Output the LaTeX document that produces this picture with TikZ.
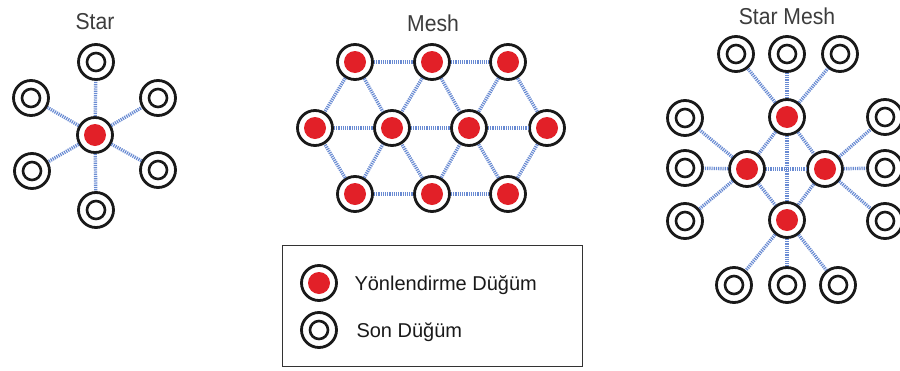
\documentclass[tikz,border=0pt]{standalone}
\usepackage{fontspec}
\setmainfont{Liberation Sans}
\definecolor{linkblue}{RGB}{104,138,210}
\definecolor{routered}{RGB}{226,32,40}
\definecolor{ringgray}{RGB}{25,25,25}
\definecolor{titlegray}{RGB}{60,60,60}
\begin{document}
\begin{tikzpicture}[x=1pt,y=-1pt,
  endn/.style={circle,draw=ringgray,line width=2.8pt,minimum size=35pt,inner sep=0pt,fill=white,
    path picture={\draw[ringgray,line width=2.6pt] (path picture bounding box.center) circle (9pt);}},
  routen/.style={circle,draw=ringgray,line width=2.8pt,minimum size=35pt,inner sep=0pt,fill=white,
    path picture={\fill[routered] (path picture bounding box.center) circle (11pt);}},
  link/.style={draw=linkblue,line width=3.4pt,dash pattern=on 1.2pt off 1pt},
  title/.style={font=\fontsize{23}{25}\selectfont,text=titlegray,xscale=0.92},
  legtext/.style={font=\fontsize{20}{23}\selectfont,anchor=west,text=black!90}]
\useasboundingbox (0,0) rectangle (900,370);
\clip (0,0) rectangle (900,370);

% ---- Star ----
\node[title] (tstar) at (95,22) {Star};
\node[routen] (sc) at (95,135) {};
\node[endn] (s1) at (96,62) {};
\node[endn] (s2) at (31,98) {};
\node[endn] (s3) at (158,98) {};
\node[endn] (s4) at (32,171) {};
\node[endn] (s5) at (158,170) {};
\node[endn] (s6) at (96,210) {};
\foreach \n in {s1,s2,s3,s4,s5,s6} \draw[link] (sc) -- (\n);

% ---- Mesh ----
\node[title] (tmesh) at (433,23) {Mesh};
\node[routen] (t1) at (355,62) {};
\node[routen] (t2) at (432,62) {};
\node[routen] (t3) at (508,62) {};
\node[routen] (m1) at (315,128) {};
\node[routen] (m2) at (392,128) {};
\node[routen] (m3) at (469,128) {};
\node[routen] (m4) at (547,128) {};
\node[routen] (b1) at (355,194) {};
\node[routen] (b2) at (432,194) {};
\node[routen] (b3) at (508,194) {};
\foreach \a/\b in {t1/t2,t2/t3,m1/m2,m2/m3,m3/m4,b1/b2,b2/b3,
  t1/m1,t1/m2,t2/m2,t2/m3,t3/m3,t3/m4,
  b1/m1,b1/m2,b2/m2,b2/m3,b3/m3,b3/m4}
  \draw[link] (\a) -- (\b);

% ---- Star Mesh ----
\node[title] (tsm) at (787,16) {Star Mesh};
\node[routen] (rt) at (787,117) {};
\node[routen] (rl) at (747,169) {};
\node[routen] (rr) at (825,169) {};
\node[routen] (rb) at (787,220) {};
\node[endn] (et1) at (736,54) {};
\node[endn] (et2) at (787,54) {};
\node[endn] (et3) at (840,54) {};
\node[endn] (el1) at (685,118) {};
\node[endn] (el2) at (685,168) {};
\node[endn] (el3) at (685,221) {};
\node[endn] (er1) at (885,117) {};
\node[endn] (er2) at (885,168) {};
\node[endn] (er3) at (885,221) {};
\node[endn] (eb1) at (734,285) {};
\node[endn] (eb2) at (787,285) {};
\node[endn] (eb3) at (838,285) {};
\foreach \a/\b in {rt/et1,rt/et2,rt/et3,rl/el1,rl/el2,rl/el3,
  rr/er1,rr/er2,rr/er3,rb/eb1,rb/eb2,rb/eb3,
  rt/rl,rt/rr,rt/rb,rl/rr,rl/rb,rr/rb}
  \draw[link] (\a) -- (\b);

% ---- Legend ----
\node[draw=black!80,line width=1.8pt,minimum width=300pt,minimum height=121pt,inner sep=0pt] (legend) at (432.5,306) {};
\node[routen] (lr) at (319,283) {};
\node[endn] (le) at (319,330) {};
\node[legtext] (lrt) at (351,285) {Yönlendirme Düğüm};
\node[legtext] (let) at (353,332) {Son Düğüm};
\end{tikzpicture}
\end{document}
